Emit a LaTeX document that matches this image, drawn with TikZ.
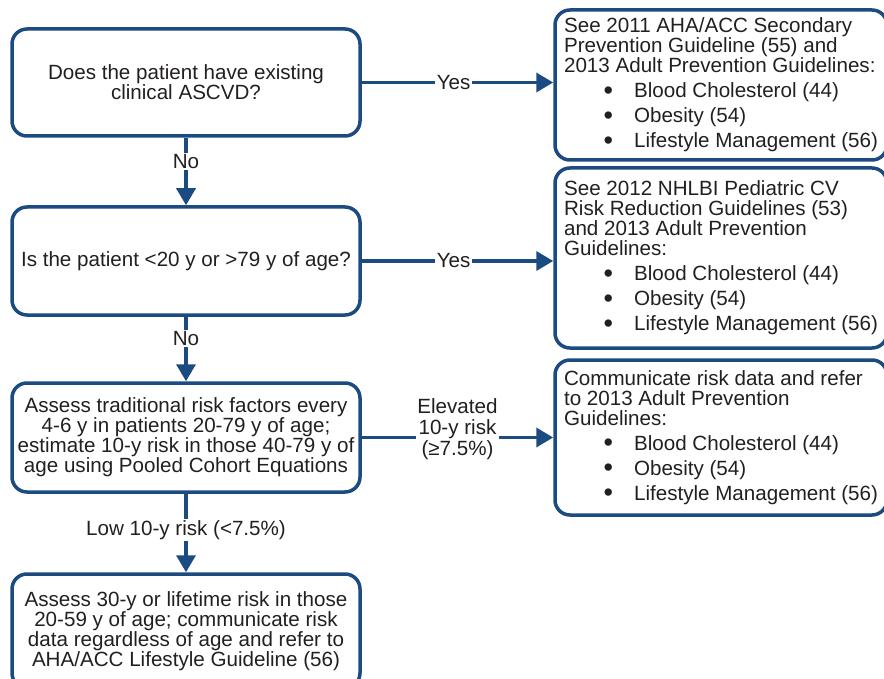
\documentclass[tikz,border=0pt]{standalone}
\usepackage{fontspec}
\setmainfont{Liberation Sans}
\usetikzlibrary{arrows.meta}
\definecolor{guideblue}{RGB}{28,75,130}
\definecolor{guidetext}{RGB}{35,31,32}
\newcommand{\gitem}[1]{\makebox[70pt][r]{\raisebox{-1.5pt}{\fontsize{27}{20}\selectfont\textbullet}\hspace{21pt}}#1}
\begin{document}
\begin{tikzpicture}[x=1pt,y=-1pt,
    box/.style={draw=guideblue,line width=3.5pt,rounded corners=15pt,text=guidetext,
        font=\fontsize{20.6}{20}\selectfont},
    qbox/.style={box,minimum width=348pt,align=center,inner xsep=0pt},
    gbox/.style={box,minimum width=332pt,align=left,inner xsep=0pt},
    flow/.style={draw=guideblue,line width=3.5pt,-{Triangle[length=17pt,width=19pt]}},
    lbl/.style={fill=white,text=guidetext,inner sep=1.5pt,align=center,
        font=\fontsize{20.6}{21}\selectfont}]
        \useasboundingbox (0,0) rectangle (884,679);
        % questions on the left
        \node[qbox,minimum height=107pt] (ascvd) at (186,82.5) {Does the patient have existing\\clinical ASCVD?};
        \node[qbox,minimum height=108pt] (age) at (186,261) {Is the patient <20 y or >79 y of age?};
        \node[qbox,minimum height=109pt] (assess) at (186,437.5) {Assess traditional risk factors every\\4-6 y in patients 20-79 y of age;\\estimate 10-y risk in those 40-79 y of\\age using Pooled Cohort Equations};
        \node[qbox,minimum height=114pt] (lifetime) at (186,631) {Assess 30-y or lifetime risk in those\\20-59 y of age; communicate risk\\data regardless of age and refer to\\AHA/ACC Lifestyle Guideline (56)};
        % guidelines on the right
        \node[gbox,minimum height=150pt] (secondary) at (721,85) {See 2011 AHA/ACC Secondary\\Prevention Guideline (55) and\\2013 Adult Prevention Guidelines:\\[5pt]\gitem{Blood Cholesterol (44)}\\[5pt]\gitem{Obesity (54)}\\[5pt]\gitem{Lifestyle Management (56)}};
        \node[gbox,minimum height=180pt] (pediatric) at (721,258) {See 2012 NHLBI Pediatric CV\\Risk Reduction Guidelines (53)\\and 2013 Adult Prevention\\Guidelines:\\[5pt]\gitem{Blood Cholesterol (44)}\\[5pt]\gitem{Obesity (54)}\\[5pt]\gitem{Lifestyle Management (56)}};
        \node[gbox,minimum height=155pt] (refer) at (721,437.5) {Communicate risk data and refer\\to 2013 Adult Prevention\\Guidelines:\\[5pt]\gitem{Blood Cholesterol (44)}\\[5pt]\gitem{Obesity (54)}\\[5pt]\gitem{Lifestyle Management (56)}};
        % connectors
        \draw[flow] (ascvd.east) -- node[lbl,pos=0.48] {Yes} (ascvd.east -| secondary.west);
        \draw[flow] (age.east) -- node[lbl,pos=0.48] {Yes} (age.east -| pediatric.west);
        \draw[flow] (assess.east) -- node[lbl,pos=0.5,yshift=8pt] {Elevated\\10-y risk\\(≥7.5\%)} (assess.east -| refer.west);
        \draw[flow] (ascvd.south) -- node[lbl,pos=0.35] {No} (age.north);
        \draw[flow] (age.south) -- node[lbl,pos=0.34] {No} (assess.north);
        \draw[flow] (assess.south) -- node[lbl,pos=0.46] {Low 10-y risk (<7.5\%)} (lifetime.north);
\end{tikzpicture}
\end{document}
